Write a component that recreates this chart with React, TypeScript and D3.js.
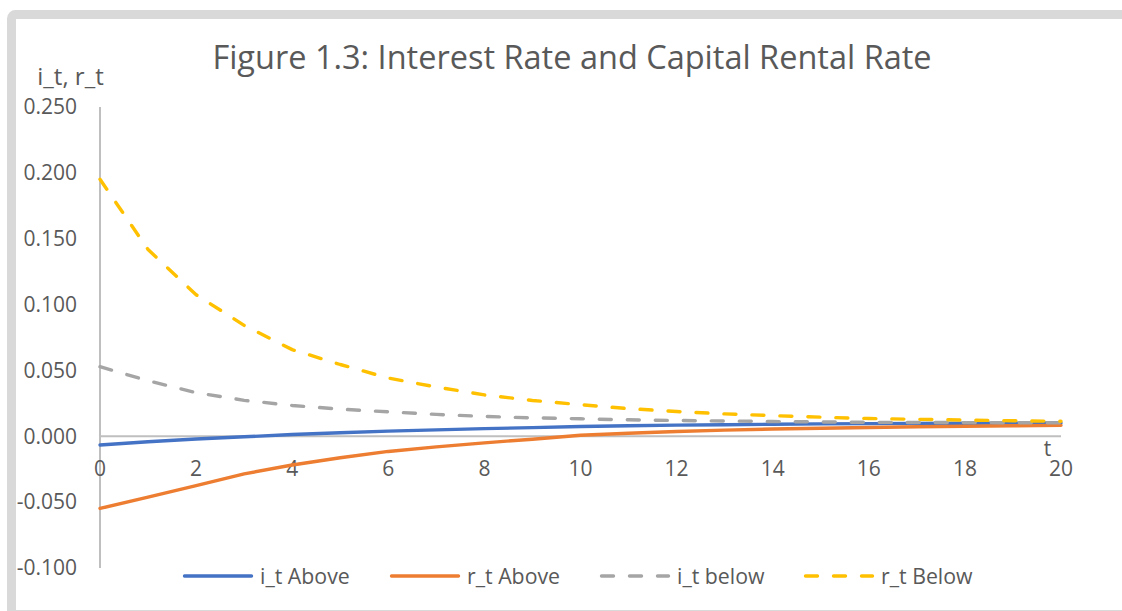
import React from "react";
import * as d3 from "d3";

// Period index on the horizontal axis
const periods = [0, 1, 2, 3, 4, 5, 6, 7, 8, 9, 10, 11, 12, 13, 14, 15, 16, 17, 18, 19, 20];

// Interest rate and capital rental rate, starting above / below the steady state
const iAbove = [-0.0066, -0.0042, -0.0021, -0.0004, 0.0013, 0.0027, 0.0039, 0.0049, 0.0058, 0.0066, 0.0074, 0.008, 0.0085, 0.0088, 0.0091, 0.0094, 0.0096, 0.0098, 0.0099, 0.01, 0.0101];
const rAbove = [-0.0548, -0.0462, -0.0375, -0.0285, -0.0218, -0.0163, -0.0115, -0.008, -0.005, -0.0022, 0.0008, 0.0023, 0.0036, 0.0047, 0.0055, 0.0061, 0.0067, 0.0072, 0.0076, 0.008, 0.0083];
const iBelow = [0.0528, 0.0422, 0.0331, 0.0273, 0.0234, 0.0206, 0.0186, 0.0166, 0.0151, 0.014, 0.0133, 0.0125, 0.012, 0.0116, 0.0112, 0.0109, 0.0106, 0.0105, 0.0104, 0.0103, 0.0102];
const rBelow = [0.1951, 0.1418, 0.1075, 0.0842, 0.0658, 0.0545, 0.0442, 0.0374, 0.0314, 0.0272, 0.024, 0.021, 0.0188, 0.017, 0.0157, 0.0145, 0.0135, 0.0129, 0.0123, 0.0118, 0.0114];

const seriesNames = ["i_t Above", "r_t Above", "i_t below", "r_t Below"];
const seriesColors = ["#4472C4", "#ED7D31", "#A5A5A5", "#FFC000"];
const seriesDashed = [false, false, true, true];

const xTicks = [0, 2, 4, 6, 8, 10, 12, 14, 16, 18, 20];
const yTicks = [-0.1, -0.05, 0, 0.05, 0.1, 0.15, 0.2, 0.25];

const titleText = "Figure 1.3: Interest Rate and Capital Rental Rate";
const yAxisTitle = "i_t, r_t";
const xAxisTitle = "t";

const W = 1122;
const H = 611;
const FONT = "'Open Sans', 'Noto Sans', sans-serif";
const TEXT = "#595959";
const AXIS = "#BFBFBF";

export default function App() {
  const x = d3.scaleLinear().domain([0, 20]).range([100, 1061]);
  const y = d3.scaleLinear().domain([-0.1, 0.25]).range([568, 107]);
  const fmt = d3.format(".3f");
  const fmtTick = (v: number) => fmt(v).replace("\u2212", "-");

  const allSeries = [iAbove, rAbove, iBelow, rBelow];
  const line = d3
    .line<number>()
    .x((_, i) => x(periods[i]))
    .y((v) => y(v));

  const legendX = [183, 390, 600, 804];
  const legendY = 576;

  return (
    <svg
      width={W}
      height={H}
      style={{ position: "absolute", left: 0, top: 0, background: "#fff" }}
      fontFamily={FONT}
    >
      {/* chart frame */}
      <rect x={11.5} y={14.5} width={1300} height={600} rx={4} fill="#fff" stroke="#D9D9D9" strokeWidth={9} />

      {/* title */}
      <text x={572} y={69} textAnchor="middle" fontSize={32.5} fill={TEXT}>
        {titleText}
      </text>

      {/* axis titles */}
      <text x={70.5} y={85} textAnchor="middle" fontSize={24} fill={TEXT}>
        {yAxisTitle}
      </text>
      <text x={1047.5} y={456} textAnchor="middle" fontSize={21} fill={TEXT}>
        {xAxisTitle}
      </text>

      {/* y axis */}
      <line x1={x(0)} x2={x(0)} y1={y(0.25)} y2={y(-0.1)} stroke={AXIS} strokeWidth={2} />
      {yTicks.map((t) => (
        <text key={t} x={77} y={y(t)} dy="0.35em" textAnchor="end" fontSize={21} fill={TEXT}>
          {fmtTick(t)}
        </text>
      ))}

      {/* x axis at zero */}
      <line x1={x(0)} x2={x(20)} y1={y(0)} y2={y(0)} stroke={AXIS} strokeWidth={2} />
      {xTicks.map((t) => (
        <text key={t} x={x(t)} y={475.5} textAnchor="middle" fontSize={21} fill={TEXT}>
          {t}
        </text>
      ))}

      {/* series */}
      {allSeries.map((s, k) => (
        <path
          key={k}
          d={line(s) || ""}
          fill="none"
          stroke={seriesColors[k]}
          strokeWidth={3.4}
          strokeLinecap="round"
          strokeLinejoin="round"
          strokeDasharray={seriesDashed[k] ? "12 16" : undefined}
        />
      ))}

      {/* legend */}
      {seriesNames.map((name, k) => (
        <g key={name} transform={`translate(${legendX[k]},${legendY})`}>
          <line
            x1={1.5}
            x2={68.5}
            y1={0}
            y2={0}
            stroke={seriesColors[k]}
            strokeWidth={3.4}
            strokeLinecap="round"
            strokeDasharray={seriesDashed[k] ? "12 16" : undefined}
          />
          <text x={77} y={7.5} fontSize={21.3} fill={TEXT}>
            {name}
          </text>
        </g>
      ))}
    </svg>
  );
}
